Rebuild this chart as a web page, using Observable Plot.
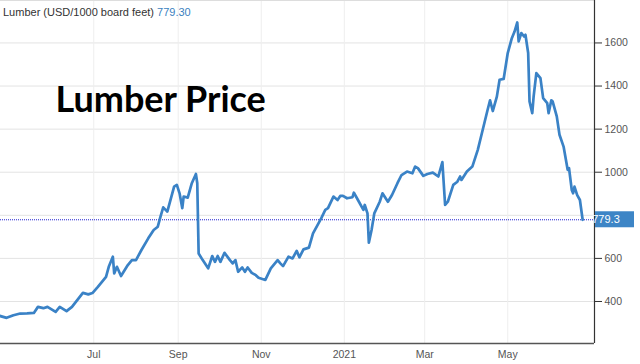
<!DOCTYPE html>
<html>
<head>
<meta charset="utf-8">
<script src="https://cdn.jsdelivr.net/npm/d3@7"></script>
<script src="https://cdn.jsdelivr.net/npm/@observablehq/plot@0.6"></script>
<style>
  html, body { margin: 0; padding: 0; background: #fff; }
  #wrap { position: relative; width: 640px; height: 364px; overflow: hidden; }
  #head { position: absolute; left: 3px; top: 6px; font: 11px "Liberation Sans", Arial, sans-serif; color: #333; white-space: nowrap; }
  #head .v { color: #3b7fc0; }
</style>
</head>
<body>
<div id="wrap">
  <div id="chart"></div>
  <div id="head">Lumber (USD/1000 board feet) <span class="v">779.30</span></div>
</div>
<script>
const dates = [
  "2020-04-23","2020-04-28","2020-05-03","2020-05-08","2020-05-13","2020-05-18","2020-05-21","2020-05-25","2020-05-28","2020-06-03",
  "2020-06-06","2020-06-11","2020-06-15","2020-06-23","2020-06-27","2020-06-30","2020-07-04","2020-07-10","2020-07-12","2020-07-15",
  "2020-07-16","2020-07-18","2020-07-21","2020-07-26","2020-07-29","2020-08-01","2020-08-05","2020-08-10","2020-08-14","2020-08-17",
  "2020-08-19","2020-08-21","2020-08-24","2020-08-29","2020-08-31","2020-09-02","2020-09-04","2020-09-05","2020-09-08","2020-09-11",
  "2020-09-14","2020-09-15","2020-09-16","2020-09-19","2020-09-23","2020-09-26","2020-09-28","2020-09-30","2020-10-02","2020-10-05",
  "2020-10-09","2020-10-11","2020-10-13","2020-10-15","2020-10-18","2020-10-20","2020-10-22","2020-10-25","2020-10-28","2020-10-30",
  "2020-11-04","2020-11-08","2020-11-13","2020-11-15","2020-11-17","2020-11-21","2020-11-24","2020-11-27","2020-11-29","2020-12-02",
  "2020-12-06","2020-12-09","2020-12-15","2020-12-18","2020-12-20","2020-12-24","2020-12-27","2020-12-29","2020-12-31","2021-01-03",
  "2021-01-07","2021-01-08","2021-01-11","2021-01-15","2021-01-16","2021-01-18","2021-01-19","2021-01-21","2021-01-23","2021-01-27",
  "2021-01-29","2021-02-02","2021-02-05","2021-02-09","2021-02-12","2021-02-16","2021-02-20","2021-02-22","2021-02-24","2021-02-28",
  "2021-03-03","2021-03-07","2021-03-11","2021-03-14","2021-03-16","2021-03-18","2021-03-22","2021-03-25","2021-03-27","2021-03-28",
  "2021-04-01","2021-04-05","2021-04-09","2021-04-12","2021-04-16","2021-04-18","2021-04-20","2021-04-23","2021-04-25","2021-04-28",
  "2021-05-01","2021-05-04","2021-05-06","2021-05-08","2021-05-09","2021-05-11","2021-05-13","2021-05-14","2021-05-16","2021-05-17",
  "2021-05-19","2021-05-20","2021-05-22","2021-05-25","2021-05-27","2021-05-30","2021-05-31","2021-06-02","2021-06-03","2021-06-06",
  "2021-06-08","2021-06-11","2021-06-14","2021-06-15","2021-06-17","2021-06-18","2021-06-19","2021-06-21","2021-06-23","2021-06-25"
];
const prices = [
  333,324,336,344,345,347,375,369,375,352,
  375,355,375,440,433,439,468,514,561,608,
  530,561,518,569,592,592,639,693,732,747,
  794,837,817,933,941,902,833,887,882,949,
  992,949,623,592,554,611,584,611,584,626,
  592,577,592,538,558,538,558,533,522,510,
  500,554,592,577,564,608,600,635,605,642,
  650,716,786,825,833,887,871,890,890,879,
  884,905,871,825,848,809,673,732,809,863,
  902,863,894,949,987,1003,995,1026,1019,983,
  992,998,980,1047,848,863,941,956,980,964,
  1003,1026,1104,1181,1284,1334,1284,1351,1429,1433,
  1553,1622,1653,1695,1607,1646,1630,1638,1553,1328,
  1274,1351,1460,1437,1344,1321,1274,1334,1328,1259,
  1174,1119,1011,1019,918,902,933,894,871,779.3
];
const yTicks = [400, 600, 800, 1000, 1200, 1400, 1600];
const xTickDates = ["2020-07-01","2020-09-01","2020-11-01","2021-01-01","2021-03-01","2021-05-01"];
const xTickLabels = ["Jul","Sep","Nov","2021","Mar","May"];
const lastValue = 779.3;
const lastLabel = "779.3";
const chartTitle = "Lumber Price";

const data = dates.map((d, i) => ({date: new Date(d + "T00:00Z"), price: prices[i]}));
const xTicks = xTickDates.map(d => new Date(d + "T00:00Z"));
const labelMap = new Map(xTicks.map((d, i) => [+d, xTickLabels[i]]));
const xStart = new Date("2020-04-23T12:00Z");
const xEnd = new Date("2021-07-03T17:00Z");
const yMin = 205, yMax = 1797;
// the 800 label sits under the last-value box in the reference
const yAxisTicks = yTicks.filter(t => Math.abs(t - lastValue) > 50);

const valueBox = (index, scales, values, dims) => {
  const y = scales.y(lastValue);
  const x0 = dims.width - dims.marginRight + 1;
  const g = d3.create("svg:g");
  g.append("rect").attr("x", x0).attr("y", y - 8).attr("width", 39).attr("height", 16).attr("fill", "#3d85c6");
  g.append("text").attr("x", x0 + 11).attr("y", y + 4).attr("fill", "white")
    .attr("font-size", 11).attr("font-family", "Liberation Sans, Arial, sans-serif").text(lastLabel);
  return g.node();
};

const chart = Plot.plot({
  width: 640, height: 364,
  marginLeft: 0, marginRight: 46, marginTop: 0, marginBottom: 21,
  style: {fontFamily: "'Liberation Sans', Arial, sans-serif", fontSize: "10.5px", color: "#555", background: "white"},
  x: {type: "utc", domain: [xStart, xEnd]},
  y: {domain: [yMin, yMax]},
  marks: [
    Plot.gridY(yTicks, {stroke: "#e3e3e3", strokeOpacity: 1}),
    Plot.gridX(xTicks, {stroke: "#eeeeee", strokeOpacity: 1}),
    Plot.ruleY([yMax], {stroke: "#dddddd"}),
    Plot.ruleY([lastValue], {stroke: "#2020d0", strokeDasharray: "1,1", strokeWidth: 1}),
    Plot.line(data, {x: "date", y: "price", stroke: "#3a82c6", strokeWidth: 2.7, strokeLinejoin: "round"}),
    Plot.axisY(yAxisTicks, {anchor: "right", tickSize: 7, tickPadding: 3, stroke: "#333", tickFormat: d => String(d), label: null}),
    Plot.axisX(xTicks, {tickSize: 0, tickPadding: 7, tickFormat: d => labelMap.get(+d), label: null}),
    Plot.ruleX([xEnd], {stroke: "#333", strokeWidth: 1.2}),
    Plot.ruleY([yMin], {stroke: "#555", strokeWidth: 1.5}),
    Plot.text([chartTitle], {frameAnchor: "top-left", dx: 55, dy: 100, text: d => d, textAnchor: "start", lineAnchor: "middle",
      fontSize: 36, fontWeight: "bold", fontFamily: "Lato, 'Open Sans', sans-serif", fill: "black"}),
    valueBox
  ]
});
document.getElementById("chart").appendChild(chart);
</script>
</body>
</html>
